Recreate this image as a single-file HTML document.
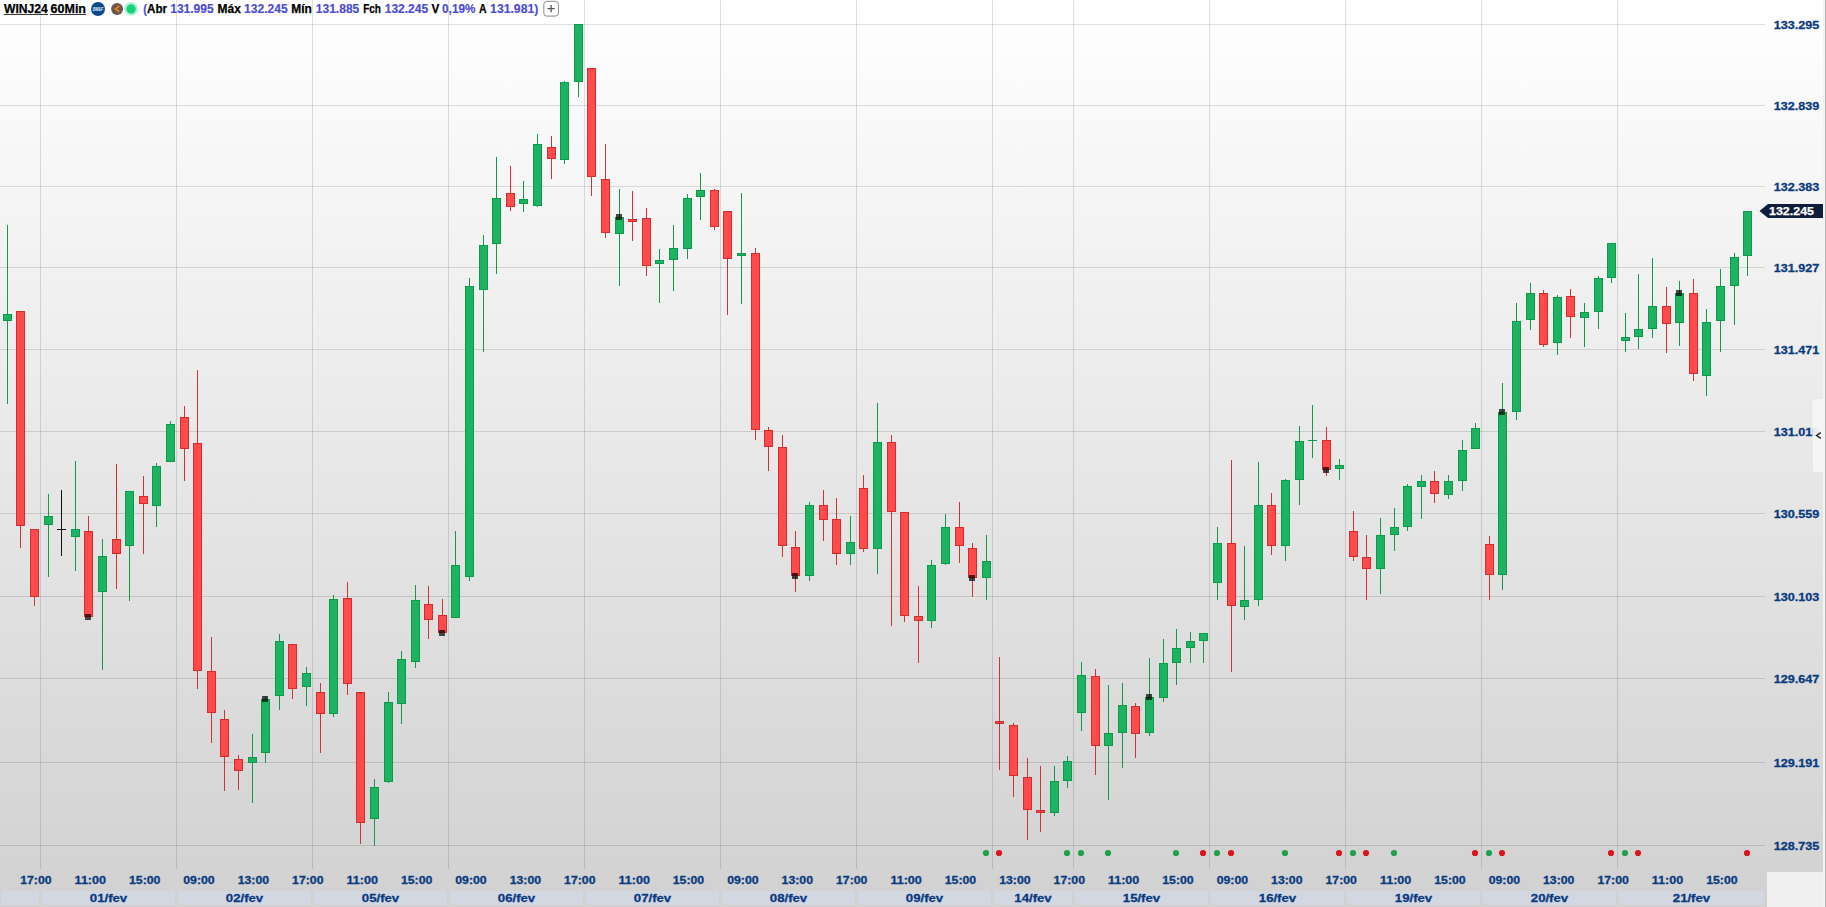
<!DOCTYPE html><html><head><meta charset="utf-8"><title>WINJ24 60Min</title>
<style>html,body{margin:0;padding:0;background:#fff;overflow:hidden}svg{display:block}text{font-family:"Liberation Sans",sans-serif;font-weight:bold}</style></head><body>
<svg width="1826" height="907" viewBox="0 0 1826 907" shape-rendering="crispEdges">
<defs><linearGradient id="bg" x1="0" y1="0" x2="0" y2="1"><stop offset="0" stop-color="#ffffff"/><stop offset="1" stop-color="#d1d1d1"/></linearGradient></defs>
<rect x="0" y="0" width="1826" height="907" fill="url(#bg)"/>
<rect x="1767" y="872" width="59" height="35" fill="#f0f0f0"/>
<rect x="0" y="24" width="1765" height="1" fill="rgba(0,0,0,0.12)"/>
<rect x="0" y="105" width="1765" height="1" fill="rgba(0,0,0,0.12)"/>
<rect x="0" y="186" width="1765" height="1" fill="rgba(0,0,0,0.12)"/>
<rect x="0" y="267" width="1765" height="1" fill="rgba(0,0,0,0.12)"/>
<rect x="0" y="349" width="1765" height="1" fill="rgba(0,0,0,0.12)"/>
<rect x="0" y="431" width="1765" height="1" fill="rgba(0,0,0,0.12)"/>
<rect x="0" y="513" width="1765" height="1" fill="rgba(0,0,0,0.12)"/>
<rect x="0" y="596" width="1765" height="1" fill="rgba(0,0,0,0.12)"/>
<rect x="0" y="678" width="1765" height="1" fill="rgba(0,0,0,0.12)"/>
<rect x="0" y="762" width="1765" height="1" fill="rgba(0,0,0,0.12)"/>
<rect x="0" y="845" width="1765" height="1" fill="rgba(0,0,0,0.12)"/>
<rect x="40" y="0" width="1" height="869" fill="rgba(0,0,0,0.12)"/>
<rect x="176" y="0" width="1" height="869" fill="rgba(0,0,0,0.12)"/>
<rect x="312" y="0" width="1" height="869" fill="rgba(0,0,0,0.12)"/>
<rect x="448" y="0" width="1" height="869" fill="rgba(0,0,0,0.12)"/>
<rect x="584" y="0" width="1" height="869" fill="rgba(0,0,0,0.12)"/>
<rect x="720" y="0" width="1" height="869" fill="rgba(0,0,0,0.12)"/>
<rect x="856" y="0" width="1" height="869" fill="rgba(0,0,0,0.12)"/>
<rect x="992" y="0" width="1" height="869" fill="rgba(0,0,0,0.12)"/>
<rect x="1073" y="0" width="1" height="869" fill="rgba(0,0,0,0.12)"/>
<rect x="1209" y="0" width="1" height="869" fill="rgba(0,0,0,0.12)"/>
<rect x="1345" y="0" width="1" height="869" fill="rgba(0,0,0,0.12)"/>
<rect x="1481" y="0" width="1" height="869" fill="rgba(0,0,0,0.12)"/>
<rect x="1617" y="0" width="1" height="869" fill="rgba(0,0,0,0.12)"/>
<rect x="1" y="891" width="38" height="14" fill="#d3d7e2"/>
<rect x="42" y="891" width="133" height="14" fill="#d3d7e2"/>
<rect x="178" y="891" width="133" height="14" fill="#d3d7e2"/>
<rect x="314" y="891" width="133" height="14" fill="#d3d7e2"/>
<rect x="450" y="891" width="133" height="14" fill="#d3d7e2"/>
<rect x="586" y="891" width="133" height="14" fill="#d3d7e2"/>
<rect x="722" y="891" width="133" height="14" fill="#d3d7e2"/>
<rect x="858" y="891" width="133" height="14" fill="#d3d7e2"/>
<rect x="994" y="891" width="78" height="14" fill="#d3d7e2"/>
<rect x="1075" y="891" width="133" height="14" fill="#d3d7e2"/>
<rect x="1211" y="891" width="133" height="14" fill="#d3d7e2"/>
<rect x="1347" y="891" width="133" height="14" fill="#d3d7e2"/>
<rect x="1483" y="891" width="133" height="14" fill="#d3d7e2"/>
<rect x="1619" y="891" width="145" height="14" fill="#d3d7e2"/>
<text x="108.5" y="902" font-size="11.2" fill="#0a3a80" text-anchor="middle" stroke="#0a3a80" stroke-width="0.3" textLength="37.4" lengthAdjust="spacingAndGlyphs">01/fev</text>
<text x="244.5" y="902" font-size="11.2" fill="#0a3a80" text-anchor="middle" stroke="#0a3a80" stroke-width="0.3" textLength="37.4" lengthAdjust="spacingAndGlyphs">02/fev</text>
<text x="380.5" y="902" font-size="11.2" fill="#0a3a80" text-anchor="middle" stroke="#0a3a80" stroke-width="0.3" textLength="37.4" lengthAdjust="spacingAndGlyphs">05/fev</text>
<text x="516.5" y="902" font-size="11.2" fill="#0a3a80" text-anchor="middle" stroke="#0a3a80" stroke-width="0.3" textLength="37.4" lengthAdjust="spacingAndGlyphs">06/fev</text>
<text x="652.5" y="902" font-size="11.2" fill="#0a3a80" text-anchor="middle" stroke="#0a3a80" stroke-width="0.3" textLength="37.4" lengthAdjust="spacingAndGlyphs">07/fev</text>
<text x="788.5" y="902" font-size="11.2" fill="#0a3a80" text-anchor="middle" stroke="#0a3a80" stroke-width="0.3" textLength="37.4" lengthAdjust="spacingAndGlyphs">08/fev</text>
<text x="924.5" y="902" font-size="11.2" fill="#0a3a80" text-anchor="middle" stroke="#0a3a80" stroke-width="0.3" textLength="37.4" lengthAdjust="spacingAndGlyphs">09/fev</text>
<text x="1033.0" y="902" font-size="11.2" fill="#0a3a80" text-anchor="middle" stroke="#0a3a80" stroke-width="0.3" textLength="37.4" lengthAdjust="spacingAndGlyphs">14/fev</text>
<text x="1141.5" y="902" font-size="11.2" fill="#0a3a80" text-anchor="middle" stroke="#0a3a80" stroke-width="0.3" textLength="37.4" lengthAdjust="spacingAndGlyphs">15/fev</text>
<text x="1277.5" y="902" font-size="11.2" fill="#0a3a80" text-anchor="middle" stroke="#0a3a80" stroke-width="0.3" textLength="37.4" lengthAdjust="spacingAndGlyphs">16/fev</text>
<text x="1413.5" y="902" font-size="11.2" fill="#0a3a80" text-anchor="middle" stroke="#0a3a80" stroke-width="0.3" textLength="37.4" lengthAdjust="spacingAndGlyphs">19/fev</text>
<text x="1549.5" y="902" font-size="11.2" fill="#0a3a80" text-anchor="middle" stroke="#0a3a80" stroke-width="0.3" textLength="37.4" lengthAdjust="spacingAndGlyphs">20/fev</text>
<text x="1691.5" y="902" font-size="11.2" fill="#0a3a80" text-anchor="middle" stroke="#0a3a80" stroke-width="0.3" textLength="37.4" lengthAdjust="spacingAndGlyphs">21/fev</text>
<text x="35.9" y="884" font-size="11.2" fill="#0a3a80" text-anchor="middle" stroke="#0a3a80" stroke-width="0.3" textLength="31.4" lengthAdjust="spacingAndGlyphs">17:00</text>
<text x="90.3" y="884" font-size="11.2" fill="#0a3a80" text-anchor="middle" stroke="#0a3a80" stroke-width="0.3" textLength="31.4" lengthAdjust="spacingAndGlyphs">11:00</text>
<text x="144.7" y="884" font-size="11.2" fill="#0a3a80" text-anchor="middle" stroke="#0a3a80" stroke-width="0.3" textLength="31.4" lengthAdjust="spacingAndGlyphs">15:00</text>
<text x="199.0" y="884" font-size="11.2" fill="#0a3a80" text-anchor="middle" stroke="#0a3a80" stroke-width="0.3" textLength="31.4" lengthAdjust="spacingAndGlyphs">09:00</text>
<text x="253.4" y="884" font-size="11.2" fill="#0a3a80" text-anchor="middle" stroke="#0a3a80" stroke-width="0.3" textLength="31.4" lengthAdjust="spacingAndGlyphs">13:00</text>
<text x="307.8" y="884" font-size="11.2" fill="#0a3a80" text-anchor="middle" stroke="#0a3a80" stroke-width="0.3" textLength="31.4" lengthAdjust="spacingAndGlyphs">17:00</text>
<text x="362.2" y="884" font-size="11.2" fill="#0a3a80" text-anchor="middle" stroke="#0a3a80" stroke-width="0.3" textLength="31.4" lengthAdjust="spacingAndGlyphs">11:00</text>
<text x="416.6" y="884" font-size="11.2" fill="#0a3a80" text-anchor="middle" stroke="#0a3a80" stroke-width="0.3" textLength="31.4" lengthAdjust="spacingAndGlyphs">15:00</text>
<text x="471.0" y="884" font-size="11.2" fill="#0a3a80" text-anchor="middle" stroke="#0a3a80" stroke-width="0.3" textLength="31.4" lengthAdjust="spacingAndGlyphs">09:00</text>
<text x="525.4" y="884" font-size="11.2" fill="#0a3a80" text-anchor="middle" stroke="#0a3a80" stroke-width="0.3" textLength="31.4" lengthAdjust="spacingAndGlyphs">13:00</text>
<text x="579.8" y="884" font-size="11.2" fill="#0a3a80" text-anchor="middle" stroke="#0a3a80" stroke-width="0.3" textLength="31.4" lengthAdjust="spacingAndGlyphs">17:00</text>
<text x="634.2" y="884" font-size="11.2" fill="#0a3a80" text-anchor="middle" stroke="#0a3a80" stroke-width="0.3" textLength="31.4" lengthAdjust="spacingAndGlyphs">11:00</text>
<text x="688.5" y="884" font-size="11.2" fill="#0a3a80" text-anchor="middle" stroke="#0a3a80" stroke-width="0.3" textLength="31.4" lengthAdjust="spacingAndGlyphs">15:00</text>
<text x="742.9" y="884" font-size="11.2" fill="#0a3a80" text-anchor="middle" stroke="#0a3a80" stroke-width="0.3" textLength="31.4" lengthAdjust="spacingAndGlyphs">09:00</text>
<text x="797.3" y="884" font-size="11.2" fill="#0a3a80" text-anchor="middle" stroke="#0a3a80" stroke-width="0.3" textLength="31.4" lengthAdjust="spacingAndGlyphs">13:00</text>
<text x="851.7" y="884" font-size="11.2" fill="#0a3a80" text-anchor="middle" stroke="#0a3a80" stroke-width="0.3" textLength="31.4" lengthAdjust="spacingAndGlyphs">17:00</text>
<text x="906.1" y="884" font-size="11.2" fill="#0a3a80" text-anchor="middle" stroke="#0a3a80" stroke-width="0.3" textLength="31.4" lengthAdjust="spacingAndGlyphs">11:00</text>
<text x="960.5" y="884" font-size="11.2" fill="#0a3a80" text-anchor="middle" stroke="#0a3a80" stroke-width="0.3" textLength="31.4" lengthAdjust="spacingAndGlyphs">15:00</text>
<text x="1014.9" y="884" font-size="11.2" fill="#0a3a80" text-anchor="middle" stroke="#0a3a80" stroke-width="0.3" textLength="31.4" lengthAdjust="spacingAndGlyphs">13:00</text>
<text x="1069.3" y="884" font-size="11.2" fill="#0a3a80" text-anchor="middle" stroke="#0a3a80" stroke-width="0.3" textLength="31.4" lengthAdjust="spacingAndGlyphs">17:00</text>
<text x="1123.6" y="884" font-size="11.2" fill="#0a3a80" text-anchor="middle" stroke="#0a3a80" stroke-width="0.3" textLength="31.4" lengthAdjust="spacingAndGlyphs">11:00</text>
<text x="1178.0" y="884" font-size="11.2" fill="#0a3a80" text-anchor="middle" stroke="#0a3a80" stroke-width="0.3" textLength="31.4" lengthAdjust="spacingAndGlyphs">15:00</text>
<text x="1232.4" y="884" font-size="11.2" fill="#0a3a80" text-anchor="middle" stroke="#0a3a80" stroke-width="0.3" textLength="31.4" lengthAdjust="spacingAndGlyphs">09:00</text>
<text x="1286.8" y="884" font-size="11.2" fill="#0a3a80" text-anchor="middle" stroke="#0a3a80" stroke-width="0.3" textLength="31.4" lengthAdjust="spacingAndGlyphs">13:00</text>
<text x="1341.2" y="884" font-size="11.2" fill="#0a3a80" text-anchor="middle" stroke="#0a3a80" stroke-width="0.3" textLength="31.4" lengthAdjust="spacingAndGlyphs">17:00</text>
<text x="1395.6" y="884" font-size="11.2" fill="#0a3a80" text-anchor="middle" stroke="#0a3a80" stroke-width="0.3" textLength="31.4" lengthAdjust="spacingAndGlyphs">11:00</text>
<text x="1450.0" y="884" font-size="11.2" fill="#0a3a80" text-anchor="middle" stroke="#0a3a80" stroke-width="0.3" textLength="31.4" lengthAdjust="spacingAndGlyphs">15:00</text>
<text x="1504.4" y="884" font-size="11.2" fill="#0a3a80" text-anchor="middle" stroke="#0a3a80" stroke-width="0.3" textLength="31.4" lengthAdjust="spacingAndGlyphs">09:00</text>
<text x="1558.7" y="884" font-size="11.2" fill="#0a3a80" text-anchor="middle" stroke="#0a3a80" stroke-width="0.3" textLength="31.4" lengthAdjust="spacingAndGlyphs">13:00</text>
<text x="1613.1" y="884" font-size="11.2" fill="#0a3a80" text-anchor="middle" stroke="#0a3a80" stroke-width="0.3" textLength="31.4" lengthAdjust="spacingAndGlyphs">17:00</text>
<text x="1667.5" y="884" font-size="11.2" fill="#0a3a80" text-anchor="middle" stroke="#0a3a80" stroke-width="0.3" textLength="31.4" lengthAdjust="spacingAndGlyphs">11:00</text>
<text x="1721.9" y="884" font-size="11.2" fill="#0a3a80" text-anchor="middle" stroke="#0a3a80" stroke-width="0.3" textLength="31.4" lengthAdjust="spacingAndGlyphs">15:00</text>
<rect x="7" y="225" width="1" height="179" fill="#12994c"/>
<rect x="3" y="314" width="9" height="7" fill="#0a9c49"/><rect x="4" y="315" width="7" height="5" fill="#1db362"/>
<rect x="20" y="311" width="1" height="237" fill="#d23232"/>
<rect x="16" y="311" width="9" height="215" fill="#d62c2c"/><rect x="17" y="312" width="7" height="213" fill="#ff4b4b"/>
<rect x="34" y="529" width="1" height="77" fill="#d23232"/>
<rect x="30" y="529" width="9" height="68" fill="#d62c2c"/><rect x="31" y="530" width="7" height="66" fill="#ff4b4b"/>
<rect x="48" y="494" width="1" height="83" fill="#12994c"/>
<rect x="44" y="516" width="9" height="9" fill="#0a9c49"/><rect x="45" y="517" width="7" height="7" fill="#1db362"/>
<rect x="75" y="461" width="1" height="110" fill="#12994c"/>
<rect x="71" y="529" width="9" height="8" fill="#0a9c49"/><rect x="72" y="530" width="7" height="6" fill="#1db362"/>
<rect x="88" y="516" width="1" height="101" fill="#d23232"/>
<rect x="84" y="531" width="9" height="86" fill="#d62c2c"/><rect x="85" y="532" width="7" height="84" fill="#ff4b4b"/>
<rect x="85" y="614" width="6" height="6" fill="rgba(0,0,0,0.7)"/>
<rect x="102" y="539" width="1" height="131" fill="#12994c"/>
<rect x="98" y="556" width="9" height="36" fill="#0a9c49"/><rect x="99" y="557" width="7" height="34" fill="#1db362"/>
<rect x="116" y="464" width="1" height="125" fill="#d23232"/>
<rect x="112" y="539" width="9" height="15" fill="#d62c2c"/><rect x="113" y="540" width="7" height="13" fill="#ff4b4b"/>
<rect x="129" y="491" width="1" height="110" fill="#12994c"/>
<rect x="125" y="491" width="9" height="55" fill="#0a9c49"/><rect x="126" y="492" width="7" height="53" fill="#1db362"/>
<rect x="143" y="476" width="1" height="78" fill="#d23232"/>
<rect x="139" y="496" width="9" height="8" fill="#d62c2c"/><rect x="140" y="497" width="7" height="6" fill="#ff4b4b"/>
<rect x="156" y="463" width="1" height="64" fill="#12994c"/>
<rect x="152" y="466" width="9" height="40" fill="#0a9c49"/><rect x="153" y="467" width="7" height="38" fill="#1db362"/>
<rect x="170" y="421" width="1" height="41" fill="#12994c"/>
<rect x="166" y="424" width="9" height="38" fill="#0a9c49"/><rect x="167" y="425" width="7" height="36" fill="#1db362"/>
<rect x="184" y="406" width="1" height="75" fill="#d23232"/>
<rect x="180" y="417" width="9" height="32" fill="#d62c2c"/><rect x="181" y="418" width="7" height="30" fill="#ff4b4b"/>
<rect x="197" y="370" width="1" height="319" fill="#d23232"/>
<rect x="193" y="443" width="9" height="228" fill="#d62c2c"/><rect x="194" y="444" width="7" height="226" fill="#ff4b4b"/>
<rect x="211" y="637" width="1" height="106" fill="#d23232"/>
<rect x="207" y="671" width="9" height="42" fill="#d62c2c"/><rect x="208" y="672" width="7" height="40" fill="#ff4b4b"/>
<rect x="224" y="710" width="1" height="81" fill="#d23232"/>
<rect x="220" y="719" width="9" height="38" fill="#d62c2c"/><rect x="221" y="720" width="7" height="36" fill="#ff4b4b"/>
<rect x="238" y="755" width="1" height="35" fill="#d23232"/>
<rect x="234" y="759" width="9" height="12" fill="#d62c2c"/><rect x="235" y="760" width="7" height="10" fill="#ff4b4b"/>
<rect x="252" y="734" width="1" height="69" fill="#12994c"/>
<rect x="248" y="757" width="9" height="6" fill="#0a9c49"/><rect x="249" y="758" width="7" height="4" fill="#1db362"/>
<rect x="265" y="696" width="1" height="67" fill="#12994c"/>
<rect x="261" y="699" width="9" height="54" fill="#0a9c49"/><rect x="262" y="700" width="7" height="52" fill="#1db362"/>
<rect x="262" y="696" width="6" height="6" fill="rgba(0,0,0,0.7)"/>
<rect x="279" y="634" width="1" height="76" fill="#12994c"/>
<rect x="275" y="641" width="9" height="55" fill="#0a9c49"/><rect x="276" y="642" width="7" height="53" fill="#1db362"/>
<rect x="292" y="644" width="1" height="55" fill="#d23232"/>
<rect x="288" y="644" width="9" height="45" fill="#d62c2c"/><rect x="289" y="645" width="7" height="43" fill="#ff4b4b"/>
<rect x="306" y="667" width="1" height="39" fill="#12994c"/>
<rect x="302" y="673" width="9" height="14" fill="#0a9c49"/><rect x="303" y="674" width="7" height="12" fill="#1db362"/>
<rect x="320" y="683" width="1" height="70" fill="#d23232"/>
<rect x="316" y="692" width="9" height="22" fill="#d62c2c"/><rect x="317" y="693" width="7" height="20" fill="#ff4b4b"/>
<rect x="333" y="595" width="1" height="122" fill="#12994c"/>
<rect x="329" y="599" width="9" height="115" fill="#0a9c49"/><rect x="330" y="600" width="7" height="113" fill="#1db362"/>
<rect x="347" y="582" width="1" height="113" fill="#d23232"/>
<rect x="343" y="598" width="9" height="86" fill="#d62c2c"/><rect x="344" y="599" width="7" height="84" fill="#ff4b4b"/>
<rect x="360" y="692" width="1" height="152" fill="#d23232"/>
<rect x="356" y="692" width="9" height="131" fill="#d62c2c"/><rect x="357" y="693" width="7" height="129" fill="#ff4b4b"/>
<rect x="374" y="779" width="1" height="67" fill="#12994c"/>
<rect x="370" y="787" width="9" height="32" fill="#0a9c49"/><rect x="371" y="788" width="7" height="30" fill="#1db362"/>
<rect x="388" y="692" width="1" height="91" fill="#12994c"/>
<rect x="384" y="702" width="9" height="80" fill="#0a9c49"/><rect x="385" y="703" width="7" height="78" fill="#1db362"/>
<rect x="401" y="651" width="1" height="73" fill="#12994c"/>
<rect x="397" y="659" width="9" height="45" fill="#0a9c49"/><rect x="398" y="660" width="7" height="43" fill="#1db362"/>
<rect x="415" y="585" width="1" height="83" fill="#12994c"/>
<rect x="411" y="600" width="9" height="62" fill="#0a9c49"/><rect x="412" y="601" width="7" height="60" fill="#1db362"/>
<rect x="428" y="586" width="1" height="53" fill="#d23232"/>
<rect x="424" y="604" width="9" height="16" fill="#d62c2c"/><rect x="425" y="605" width="7" height="14" fill="#ff4b4b"/>
<rect x="442" y="599" width="1" height="34" fill="#d23232"/>
<rect x="438" y="615" width="9" height="18" fill="#d62c2c"/><rect x="439" y="616" width="7" height="16" fill="#ff4b4b"/>
<rect x="439" y="630" width="6" height="6" fill="rgba(0,0,0,0.7)"/>
<rect x="455" y="531" width="1" height="87" fill="#12994c"/>
<rect x="451" y="565" width="9" height="53" fill="#0a9c49"/><rect x="452" y="566" width="7" height="51" fill="#1db362"/>
<rect x="469" y="278" width="1" height="303" fill="#12994c"/>
<rect x="465" y="286" width="9" height="291" fill="#0a9c49"/><rect x="466" y="287" width="7" height="289" fill="#1db362"/>
<rect x="483" y="235" width="1" height="117" fill="#12994c"/>
<rect x="479" y="245" width="9" height="45" fill="#0a9c49"/><rect x="480" y="246" width="7" height="43" fill="#1db362"/>
<rect x="496" y="157" width="1" height="117" fill="#12994c"/>
<rect x="492" y="198" width="9" height="46" fill="#0a9c49"/><rect x="493" y="199" width="7" height="44" fill="#1db362"/>
<rect x="510" y="166" width="1" height="45" fill="#d23232"/>
<rect x="506" y="193" width="9" height="14" fill="#d62c2c"/><rect x="507" y="194" width="7" height="12" fill="#ff4b4b"/>
<rect x="523" y="181" width="1" height="31" fill="#12994c"/>
<rect x="519" y="199" width="9" height="5" fill="#0a9c49"/><rect x="520" y="200" width="7" height="3" fill="#1db362"/>
<rect x="537" y="134" width="1" height="73" fill="#12994c"/>
<rect x="533" y="144" width="9" height="62" fill="#0a9c49"/><rect x="534" y="145" width="7" height="60" fill="#1db362"/>
<rect x="551" y="136" width="1" height="43" fill="#d23232"/>
<rect x="547" y="147" width="9" height="12" fill="#d62c2c"/><rect x="548" y="148" width="7" height="10" fill="#ff4b4b"/>
<rect x="564" y="81" width="1" height="83" fill="#12994c"/>
<rect x="560" y="82" width="9" height="78" fill="#0a9c49"/><rect x="561" y="83" width="7" height="76" fill="#1db362"/>
<rect x="578" y="24" width="1" height="73" fill="#12994c"/>
<rect x="574" y="24" width="9" height="58" fill="#0a9c49"/><rect x="575" y="25" width="7" height="56" fill="#1db362"/>
<rect x="591" y="68" width="1" height="128" fill="#d23232"/>
<rect x="587" y="68" width="9" height="109" fill="#d62c2c"/><rect x="588" y="69" width="7" height="107" fill="#ff4b4b"/>
<rect x="605" y="144" width="1" height="94" fill="#d23232"/>
<rect x="601" y="179" width="9" height="54" fill="#d62c2c"/><rect x="602" y="180" width="7" height="52" fill="#ff4b4b"/>
<rect x="619" y="189" width="1" height="97" fill="#12994c"/>
<rect x="615" y="217" width="9" height="17" fill="#0a9c49"/><rect x="616" y="218" width="7" height="15" fill="#1db362"/>
<rect x="616" y="214" width="6" height="6" fill="rgba(0,0,0,0.7)"/>
<rect x="632" y="191" width="1" height="50" fill="#d23232"/>
<rect x="628" y="219" width="9" height="3" fill="#d62c2c"/><rect x="629" y="220" width="7" height="1" fill="#ff4b4b"/>
<rect x="646" y="208" width="1" height="68" fill="#d23232"/>
<rect x="642" y="218" width="9" height="48" fill="#d62c2c"/><rect x="643" y="219" width="7" height="46" fill="#ff4b4b"/>
<rect x="659" y="249" width="1" height="54" fill="#12994c"/>
<rect x="655" y="260" width="9" height="4" fill="#0a9c49"/><rect x="656" y="261" width="7" height="2" fill="#1db362"/>
<rect x="673" y="225" width="1" height="66" fill="#12994c"/>
<rect x="669" y="248" width="9" height="12" fill="#0a9c49"/><rect x="670" y="249" width="7" height="10" fill="#1db362"/>
<rect x="687" y="194" width="1" height="65" fill="#12994c"/>
<rect x="683" y="198" width="9" height="51" fill="#0a9c49"/><rect x="684" y="199" width="7" height="49" fill="#1db362"/>
<rect x="700" y="173" width="1" height="47" fill="#12994c"/>
<rect x="696" y="190" width="9" height="7" fill="#0a9c49"/><rect x="697" y="191" width="7" height="5" fill="#1db362"/>
<rect x="714" y="189" width="1" height="41" fill="#d23232"/>
<rect x="710" y="190" width="9" height="37" fill="#d62c2c"/><rect x="711" y="191" width="7" height="35" fill="#ff4b4b"/>
<rect x="727" y="211" width="1" height="104" fill="#d23232"/>
<rect x="723" y="211" width="9" height="48" fill="#d62c2c"/><rect x="724" y="212" width="7" height="46" fill="#ff4b4b"/>
<rect x="741" y="193" width="1" height="111" fill="#12994c"/>
<rect x="737" y="253" width="9" height="3" fill="#0a9c49"/><rect x="738" y="254" width="7" height="1" fill="#1db362"/>
<rect x="755" y="248" width="1" height="192" fill="#d23232"/>
<rect x="751" y="253" width="9" height="177" fill="#d62c2c"/><rect x="752" y="254" width="7" height="175" fill="#ff4b4b"/>
<rect x="768" y="427" width="1" height="44" fill="#d23232"/>
<rect x="764" y="430" width="9" height="17" fill="#d62c2c"/><rect x="765" y="431" width="7" height="15" fill="#ff4b4b"/>
<rect x="782" y="435" width="1" height="122" fill="#d23232"/>
<rect x="778" y="447" width="9" height="99" fill="#d62c2c"/><rect x="779" y="448" width="7" height="97" fill="#ff4b4b"/>
<rect x="795" y="531" width="1" height="61" fill="#d23232"/>
<rect x="791" y="547" width="9" height="29" fill="#d62c2c"/><rect x="792" y="548" width="7" height="27" fill="#ff4b4b"/>
<rect x="792" y="573" width="6" height="6" fill="rgba(0,0,0,0.7)"/>
<rect x="809" y="502" width="1" height="79" fill="#12994c"/>
<rect x="805" y="505" width="9" height="71" fill="#0a9c49"/><rect x="806" y="506" width="7" height="69" fill="#1db362"/>
<rect x="823" y="490" width="1" height="51" fill="#d23232"/>
<rect x="819" y="505" width="9" height="15" fill="#d62c2c"/><rect x="820" y="506" width="7" height="13" fill="#ff4b4b"/>
<rect x="836" y="498" width="1" height="67" fill="#d23232"/>
<rect x="832" y="519" width="9" height="35" fill="#d62c2c"/><rect x="833" y="520" width="7" height="33" fill="#ff4b4b"/>
<rect x="850" y="516" width="1" height="49" fill="#12994c"/>
<rect x="846" y="542" width="9" height="12" fill="#0a9c49"/><rect x="847" y="543" width="7" height="10" fill="#1db362"/>
<rect x="863" y="475" width="1" height="77" fill="#d23232"/>
<rect x="859" y="488" width="9" height="61" fill="#d62c2c"/><rect x="860" y="489" width="7" height="59" fill="#ff4b4b"/>
<rect x="877" y="403" width="1" height="171" fill="#12994c"/>
<rect x="873" y="442" width="9" height="107" fill="#0a9c49"/><rect x="874" y="443" width="7" height="105" fill="#1db362"/>
<rect x="891" y="435" width="1" height="191" fill="#d23232"/>
<rect x="887" y="442" width="9" height="70" fill="#d62c2c"/><rect x="888" y="443" width="7" height="68" fill="#ff4b4b"/>
<rect x="904" y="512" width="1" height="110" fill="#d23232"/>
<rect x="900" y="512" width="9" height="104" fill="#d62c2c"/><rect x="901" y="513" width="7" height="102" fill="#ff4b4b"/>
<rect x="918" y="586" width="1" height="77" fill="#d23232"/>
<rect x="914" y="616" width="9" height="5" fill="#d62c2c"/><rect x="915" y="617" width="7" height="3" fill="#ff4b4b"/>
<rect x="931" y="560" width="1" height="68" fill="#12994c"/>
<rect x="927" y="565" width="9" height="56" fill="#0a9c49"/><rect x="928" y="566" width="7" height="54" fill="#1db362"/>
<rect x="945" y="514" width="1" height="51" fill="#12994c"/>
<rect x="941" y="527" width="9" height="37" fill="#0a9c49"/><rect x="942" y="528" width="7" height="35" fill="#1db362"/>
<rect x="959" y="502" width="1" height="61" fill="#d23232"/>
<rect x="955" y="527" width="9" height="19" fill="#d62c2c"/><rect x="956" y="528" width="7" height="17" fill="#ff4b4b"/>
<rect x="972" y="543" width="1" height="54" fill="#d23232"/>
<rect x="968" y="548" width="9" height="30" fill="#d62c2c"/><rect x="969" y="549" width="7" height="28" fill="#ff4b4b"/>
<rect x="969" y="575" width="6" height="6" fill="rgba(0,0,0,0.7)"/>
<rect x="986" y="535" width="1" height="65" fill="#12994c"/>
<rect x="982" y="561" width="9" height="17" fill="#0a9c49"/><rect x="983" y="562" width="7" height="15" fill="#1db362"/>
<rect x="999" y="657" width="1" height="113" fill="#d23232"/>
<rect x="995" y="721" width="9" height="3" fill="#d62c2c"/><rect x="996" y="722" width="7" height="1" fill="#ff4b4b"/>
<rect x="1013" y="723" width="1" height="74" fill="#d23232"/>
<rect x="1009" y="725" width="9" height="51" fill="#d62c2c"/><rect x="1010" y="726" width="7" height="49" fill="#ff4b4b"/>
<rect x="1027" y="758" width="1" height="82" fill="#d23232"/>
<rect x="1023" y="777" width="9" height="33" fill="#d62c2c"/><rect x="1024" y="778" width="7" height="31" fill="#ff4b4b"/>
<rect x="1040" y="766" width="1" height="66" fill="#d23232"/>
<rect x="1036" y="810" width="9" height="3" fill="#d62c2c"/><rect x="1037" y="811" width="7" height="1" fill="#ff4b4b"/>
<rect x="1054" y="766" width="1" height="50" fill="#12994c"/>
<rect x="1050" y="781" width="9" height="32" fill="#0a9c49"/><rect x="1051" y="782" width="7" height="30" fill="#1db362"/>
<rect x="1067" y="756" width="1" height="32" fill="#12994c"/>
<rect x="1063" y="761" width="9" height="20" fill="#0a9c49"/><rect x="1064" y="762" width="7" height="18" fill="#1db362"/>
<rect x="1081" y="662" width="1" height="69" fill="#12994c"/>
<rect x="1077" y="675" width="9" height="38" fill="#0a9c49"/><rect x="1078" y="676" width="7" height="36" fill="#1db362"/>
<rect x="1095" y="669" width="1" height="106" fill="#d23232"/>
<rect x="1091" y="676" width="9" height="70" fill="#d62c2c"/><rect x="1092" y="677" width="7" height="68" fill="#ff4b4b"/>
<rect x="1108" y="685" width="1" height="115" fill="#12994c"/>
<rect x="1104" y="733" width="9" height="13" fill="#0a9c49"/><rect x="1105" y="734" width="7" height="11" fill="#1db362"/>
<rect x="1122" y="683" width="1" height="85" fill="#12994c"/>
<rect x="1118" y="705" width="9" height="28" fill="#0a9c49"/><rect x="1119" y="706" width="7" height="26" fill="#1db362"/>
<rect x="1135" y="703" width="1" height="55" fill="#d23232"/>
<rect x="1131" y="706" width="9" height="28" fill="#d62c2c"/><rect x="1132" y="707" width="7" height="26" fill="#ff4b4b"/>
<rect x="1149" y="658" width="1" height="78" fill="#12994c"/>
<rect x="1145" y="697" width="9" height="36" fill="#0a9c49"/><rect x="1146" y="698" width="7" height="34" fill="#1db362"/>
<rect x="1146" y="694" width="6" height="6" fill="rgba(0,0,0,0.7)"/>
<rect x="1163" y="639" width="1" height="63" fill="#12994c"/>
<rect x="1159" y="663" width="9" height="35" fill="#0a9c49"/><rect x="1160" y="664" width="7" height="33" fill="#1db362"/>
<rect x="1176" y="629" width="1" height="56" fill="#12994c"/>
<rect x="1172" y="648" width="9" height="15" fill="#0a9c49"/><rect x="1173" y="649" width="7" height="13" fill="#1db362"/>
<rect x="1190" y="632" width="1" height="31" fill="#12994c"/>
<rect x="1186" y="641" width="9" height="7" fill="#0a9c49"/><rect x="1187" y="642" width="7" height="5" fill="#1db362"/>
<rect x="1203" y="633" width="1" height="30" fill="#12994c"/>
<rect x="1199" y="633" width="9" height="8" fill="#0a9c49"/><rect x="1200" y="634" width="7" height="6" fill="#1db362"/>
<rect x="1217" y="527" width="1" height="73" fill="#12994c"/>
<rect x="1213" y="543" width="9" height="40" fill="#0a9c49"/><rect x="1214" y="544" width="7" height="38" fill="#1db362"/>
<rect x="1231" y="460" width="1" height="212" fill="#d23232"/>
<rect x="1227" y="543" width="9" height="63" fill="#d62c2c"/><rect x="1228" y="544" width="7" height="61" fill="#ff4b4b"/>
<rect x="1244" y="546" width="1" height="74" fill="#12994c"/>
<rect x="1240" y="600" width="9" height="7" fill="#0a9c49"/><rect x="1241" y="601" width="7" height="5" fill="#1db362"/>
<rect x="1258" y="462" width="1" height="144" fill="#12994c"/>
<rect x="1254" y="505" width="9" height="95" fill="#0a9c49"/><rect x="1255" y="506" width="7" height="93" fill="#1db362"/>
<rect x="1271" y="493" width="1" height="62" fill="#d23232"/>
<rect x="1267" y="505" width="9" height="41" fill="#d62c2c"/><rect x="1268" y="506" width="7" height="39" fill="#ff4b4b"/>
<rect x="1285" y="479" width="1" height="82" fill="#12994c"/>
<rect x="1281" y="480" width="9" height="66" fill="#0a9c49"/><rect x="1282" y="481" width="7" height="64" fill="#1db362"/>
<rect x="1299" y="426" width="1" height="79" fill="#12994c"/>
<rect x="1295" y="441" width="9" height="39" fill="#0a9c49"/><rect x="1296" y="442" width="7" height="37" fill="#1db362"/>
<rect x="1326" y="427" width="1" height="49" fill="#d23232"/>
<rect x="1322" y="440" width="9" height="30" fill="#d62c2c"/><rect x="1323" y="441" width="7" height="28" fill="#ff4b4b"/>
<rect x="1323" y="467" width="6" height="6" fill="rgba(0,0,0,0.7)"/>
<rect x="1339" y="459" width="1" height="21" fill="#12994c"/>
<rect x="1335" y="465" width="9" height="4" fill="#0a9c49"/><rect x="1336" y="466" width="7" height="2" fill="#1db362"/>
<rect x="1353" y="511" width="1" height="50" fill="#d23232"/>
<rect x="1349" y="531" width="9" height="26" fill="#d62c2c"/><rect x="1350" y="532" width="7" height="24" fill="#ff4b4b"/>
<rect x="1366" y="535" width="1" height="65" fill="#d23232"/>
<rect x="1362" y="557" width="9" height="12" fill="#d62c2c"/><rect x="1363" y="558" width="7" height="10" fill="#ff4b4b"/>
<rect x="1380" y="518" width="1" height="76" fill="#12994c"/>
<rect x="1376" y="535" width="9" height="34" fill="#0a9c49"/><rect x="1377" y="536" width="7" height="32" fill="#1db362"/>
<rect x="1394" y="508" width="1" height="43" fill="#12994c"/>
<rect x="1390" y="527" width="9" height="8" fill="#0a9c49"/><rect x="1391" y="528" width="7" height="6" fill="#1db362"/>
<rect x="1407" y="484" width="1" height="47" fill="#12994c"/>
<rect x="1403" y="486" width="9" height="41" fill="#0a9c49"/><rect x="1404" y="487" width="7" height="39" fill="#1db362"/>
<rect x="1421" y="475" width="1" height="44" fill="#12994c"/>
<rect x="1417" y="481" width="9" height="6" fill="#0a9c49"/><rect x="1418" y="482" width="7" height="4" fill="#1db362"/>
<rect x="1434" y="471" width="1" height="32" fill="#d23232"/>
<rect x="1430" y="481" width="9" height="13" fill="#d62c2c"/><rect x="1431" y="482" width="7" height="11" fill="#ff4b4b"/>
<rect x="1448" y="475" width="1" height="24" fill="#12994c"/>
<rect x="1444" y="481" width="9" height="14" fill="#0a9c49"/><rect x="1445" y="482" width="7" height="12" fill="#1db362"/>
<rect x="1462" y="440" width="1" height="51" fill="#12994c"/>
<rect x="1458" y="450" width="9" height="31" fill="#0a9c49"/><rect x="1459" y="451" width="7" height="29" fill="#1db362"/>
<rect x="1475" y="423" width="1" height="26" fill="#12994c"/>
<rect x="1471" y="428" width="9" height="21" fill="#0a9c49"/><rect x="1472" y="429" width="7" height="19" fill="#1db362"/>
<rect x="1489" y="536" width="1" height="64" fill="#d23232"/>
<rect x="1485" y="544" width="9" height="31" fill="#d62c2c"/><rect x="1486" y="545" width="7" height="29" fill="#ff4b4b"/>
<rect x="1502" y="383" width="1" height="207" fill="#12994c"/>
<rect x="1498" y="412" width="9" height="163" fill="#0a9c49"/><rect x="1499" y="413" width="7" height="161" fill="#1db362"/>
<rect x="1499" y="409" width="6" height="6" fill="rgba(0,0,0,0.7)"/>
<rect x="1516" y="303" width="1" height="117" fill="#12994c"/>
<rect x="1512" y="321" width="9" height="91" fill="#0a9c49"/><rect x="1513" y="322" width="7" height="89" fill="#1db362"/>
<rect x="1530" y="283" width="1" height="47" fill="#12994c"/>
<rect x="1526" y="293" width="9" height="27" fill="#0a9c49"/><rect x="1527" y="294" width="7" height="25" fill="#1db362"/>
<rect x="1543" y="290" width="1" height="57" fill="#d23232"/>
<rect x="1539" y="293" width="9" height="52" fill="#d62c2c"/><rect x="1540" y="294" width="7" height="50" fill="#ff4b4b"/>
<rect x="1557" y="295" width="1" height="60" fill="#12994c"/>
<rect x="1553" y="297" width="9" height="46" fill="#0a9c49"/><rect x="1554" y="298" width="7" height="44" fill="#1db362"/>
<rect x="1570" y="289" width="1" height="49" fill="#d23232"/>
<rect x="1566" y="296" width="9" height="21" fill="#d62c2c"/><rect x="1567" y="297" width="7" height="19" fill="#ff4b4b"/>
<rect x="1584" y="303" width="1" height="44" fill="#12994c"/>
<rect x="1580" y="312" width="9" height="6" fill="#0a9c49"/><rect x="1581" y="313" width="7" height="4" fill="#1db362"/>
<rect x="1598" y="276" width="1" height="53" fill="#12994c"/>
<rect x="1594" y="278" width="9" height="34" fill="#0a9c49"/><rect x="1595" y="279" width="7" height="32" fill="#1db362"/>
<rect x="1611" y="243" width="1" height="40" fill="#12994c"/>
<rect x="1607" y="243" width="9" height="35" fill="#0a9c49"/><rect x="1608" y="244" width="7" height="33" fill="#1db362"/>
<rect x="1625" y="313" width="1" height="39" fill="#12994c"/>
<rect x="1621" y="337" width="9" height="4" fill="#0a9c49"/><rect x="1622" y="338" width="7" height="2" fill="#1db362"/>
<rect x="1638" y="274" width="1" height="75" fill="#12994c"/>
<rect x="1634" y="329" width="9" height="8" fill="#0a9c49"/><rect x="1635" y="330" width="7" height="6" fill="#1db362"/>
<rect x="1652" y="258" width="1" height="80" fill="#12994c"/>
<rect x="1648" y="306" width="9" height="23" fill="#0a9c49"/><rect x="1649" y="307" width="7" height="21" fill="#1db362"/>
<rect x="1666" y="287" width="1" height="66" fill="#d23232"/>
<rect x="1662" y="306" width="9" height="18" fill="#d62c2c"/><rect x="1663" y="307" width="7" height="16" fill="#ff4b4b"/>
<rect x="1679" y="281" width="1" height="65" fill="#12994c"/>
<rect x="1675" y="293" width="9" height="30" fill="#0a9c49"/><rect x="1676" y="294" width="7" height="28" fill="#1db362"/>
<rect x="1676" y="290" width="6" height="6" fill="rgba(0,0,0,0.7)"/>
<rect x="1693" y="279" width="1" height="102" fill="#d23232"/>
<rect x="1689" y="293" width="9" height="81" fill="#d62c2c"/><rect x="1690" y="294" width="7" height="79" fill="#ff4b4b"/>
<rect x="1706" y="309" width="1" height="87" fill="#12994c"/>
<rect x="1702" y="322" width="9" height="54" fill="#0a9c49"/><rect x="1703" y="323" width="7" height="52" fill="#1db362"/>
<rect x="1720" y="269" width="1" height="83" fill="#12994c"/>
<rect x="1716" y="286" width="9" height="35" fill="#0a9c49"/><rect x="1717" y="287" width="7" height="33" fill="#1db362"/>
<rect x="1734" y="253" width="1" height="72" fill="#12994c"/>
<rect x="1730" y="257" width="9" height="29" fill="#0a9c49"/><rect x="1731" y="258" width="7" height="27" fill="#1db362"/>
<rect x="1747" y="211" width="1" height="65" fill="#12994c"/>
<rect x="1743" y="211" width="9" height="45" fill="#0a9c49"/><rect x="1744" y="212" width="7" height="43" fill="#1db362"/>
<rect x="61" y="490" width="1" height="66" fill="#111"/><rect x="57" y="529" width="9" height="1" fill="#111"/>
<rect x="1312" y="405" width="1" height="53" fill="#12994c"/><rect x="1308" y="440" width="9" height="1" fill="#12994c"/>
<g shape-rendering="auto">
<circle cx="986" cy="853" r="3.1" fill="#1fa04c"/>
<circle cx="999" cy="853" r="3.1" fill="#d9161c"/>
<circle cx="1067" cy="853" r="3.1" fill="#1fa04c"/>
<circle cx="1081" cy="853" r="3.1" fill="#1fa04c"/>
<circle cx="1108" cy="853" r="3.1" fill="#1fa04c"/>
<circle cx="1176" cy="853" r="3.1" fill="#1fa04c"/>
<circle cx="1203" cy="853" r="3.1" fill="#d9161c"/>
<circle cx="1217" cy="853" r="3.1" fill="#1fa04c"/>
<circle cx="1231" cy="853" r="3.1" fill="#d9161c"/>
<circle cx="1285" cy="853" r="3.1" fill="#1fa04c"/>
<circle cx="1339" cy="853" r="3.1" fill="#d9161c"/>
<circle cx="1353" cy="853" r="3.1" fill="#1fa04c"/>
<circle cx="1366" cy="853" r="3.1" fill="#d9161c"/>
<circle cx="1394" cy="853" r="3.1" fill="#1fa04c"/>
<circle cx="1475" cy="853" r="3.1" fill="#d9161c"/>
<circle cx="1489" cy="853" r="3.1" fill="#1fa04c"/>
<circle cx="1502" cy="853" r="3.1" fill="#d9161c"/>
<circle cx="1611" cy="853" r="3.1" fill="#d9161c"/>
<circle cx="1625" cy="853" r="3.1" fill="#1fa04c"/>
<circle cx="1638" cy="853" r="3.1" fill="#d9161c"/>
<circle cx="1747" cy="853" r="3.1" fill="#d9161c"/>
</g>
<text x="1773.7" y="29" font-size="11.2" fill="#0a3a80" stroke="#0a3a80" stroke-width="0.3" textLength="45.5" lengthAdjust="spacingAndGlyphs">133.295</text>
<text x="1773.7" y="110" font-size="11.2" fill="#0a3a80" stroke="#0a3a80" stroke-width="0.3" textLength="45.5" lengthAdjust="spacingAndGlyphs">132.839</text>
<text x="1773.7" y="191" font-size="11.2" fill="#0a3a80" stroke="#0a3a80" stroke-width="0.3" textLength="45.5" lengthAdjust="spacingAndGlyphs">132.383</text>
<text x="1773.7" y="272" font-size="11.2" fill="#0a3a80" stroke="#0a3a80" stroke-width="0.3" textLength="45.5" lengthAdjust="spacingAndGlyphs">131.927</text>
<text x="1773.7" y="354" font-size="11.2" fill="#0a3a80" stroke="#0a3a80" stroke-width="0.3" textLength="45.5" lengthAdjust="spacingAndGlyphs">131.471</text>
<text x="1773.7" y="436" font-size="11.2" fill="#0a3a80" stroke="#0a3a80" stroke-width="0.3" textLength="45.5" lengthAdjust="spacingAndGlyphs">131.015</text>
<text x="1773.7" y="518" font-size="11.2" fill="#0a3a80" stroke="#0a3a80" stroke-width="0.3" textLength="45.5" lengthAdjust="spacingAndGlyphs">130.559</text>
<text x="1773.7" y="601" font-size="11.2" fill="#0a3a80" stroke="#0a3a80" stroke-width="0.3" textLength="45.5" lengthAdjust="spacingAndGlyphs">130.103</text>
<text x="1773.7" y="683" font-size="11.2" fill="#0a3a80" stroke="#0a3a80" stroke-width="0.3" textLength="45.5" lengthAdjust="spacingAndGlyphs">129.647</text>
<text x="1773.7" y="767" font-size="11.2" fill="#0a3a80" stroke="#0a3a80" stroke-width="0.3" textLength="45.5" lengthAdjust="spacingAndGlyphs">129.191</text>
<text x="1773.7" y="850" font-size="11.2" fill="#0a3a80" stroke="#0a3a80" stroke-width="0.3" textLength="45.5" lengthAdjust="spacingAndGlyphs">128.735</text>
<g shape-rendering="auto"><path d="M1759.5 211 L1768 204 H1823 V218 H1768 Z" fill="#0f1d3a"/></g>
<text x="1769" y="215" font-size="11.2" fill="#ffffff" stroke="#ffffff" stroke-width="0.25" textLength="45" lengthAdjust="spacingAndGlyphs">132.245</text>
<g shape-rendering="auto"><path d="M1814.8 399 H1823 V472 H1814.8 Q1812.8 472 1812.8 470 V401 Q1812.8 399 1814.8 399 Z" fill="#f5f5f5" fill-opacity="0.93"/>
<path d="M1820.8 432.6 L1816.6 435.5 L1820.8 438.4" fill="none" stroke="#222" stroke-width="1.4"/></g>
<rect x="1823" y="0" width="2" height="907" fill="#f3f3f3"/><rect x="1825" y="0" width="1" height="907" fill="#b5b5b5"/>
<g font-size="12" shape-rendering="auto">
<text x="4" y="12.5" fill="#000" stroke="#000" stroke-width="0.25" textLength="43.8" lengthAdjust="spacingAndGlyphs">WINJ24</text>
<rect x="4" y="14" width="44" height="1" fill="#3a3a3a" shape-rendering="crispEdges"/>
<text x="50.6" y="12.5" fill="#000" stroke="#000" stroke-width="0.25" textLength="35.4" lengthAdjust="spacingAndGlyphs">60Min</text>
<rect x="50.4" y="14" width="35.8" height="1" fill="#3a3a3a" shape-rendering="crispEdges"/>
<circle cx="98" cy="8.95" r="7" fill="#084a8c"/><text x="92.7" y="10.7" font-size="4.6" fill="#e8eef6" font-style="italic" textLength="10.4" lengthAdjust="spacingAndGlyphs">BM&amp;F</text>
<circle cx="117.1" cy="8.95" r="6" fill="#6b574b"/><path d="M119.3 6.2 L115.5 8.9 L119.3 11.6" fill="none" stroke="#ff8222" stroke-width="1.5"/>
<circle cx="131.1" cy="8.95" r="6.9" fill="#b2f2d3"/><circle cx="131.1" cy="8.95" r="4.7" fill="#14d47b"/>
<text x="143.2" y="12.5" fill="#4b4bd3" stroke="#4b4bd3" stroke-width="0.15" textLength="3.6" lengthAdjust="spacingAndGlyphs">(</text>
<text x="147.0" y="12.5" fill="#000" stroke="#000" stroke-width="0.25" textLength="20.0" lengthAdjust="spacingAndGlyphs">Abr</text>
<text x="170.2" y="12.5" fill="#4b4bd3" stroke="#4b4bd3" stroke-width="0.15" textLength="43.5" lengthAdjust="spacingAndGlyphs">131.995</text>
<text x="217.6" y="12.5" fill="#000" stroke="#000" stroke-width="0.25" textLength="23.2" lengthAdjust="spacingAndGlyphs">Máx</text>
<text x="244.1" y="12.5" fill="#4b4bd3" stroke="#4b4bd3" stroke-width="0.15" textLength="43.5" lengthAdjust="spacingAndGlyphs">132.245</text>
<text x="291.3" y="12.5" fill="#000" stroke="#000" stroke-width="0.25" textLength="20.5" lengthAdjust="spacingAndGlyphs">Mín</text>
<text x="315.8" y="12.5" fill="#4b4bd3" stroke="#4b4bd3" stroke-width="0.15" textLength="43.5" lengthAdjust="spacingAndGlyphs">131.885</text>
<text x="363.2" y="12.5" fill="#000" stroke="#000" stroke-width="0.25" textLength="17.8" lengthAdjust="spacingAndGlyphs">Fch</text>
<text x="384.8" y="12.5" fill="#4b4bd3" stroke="#4b4bd3" stroke-width="0.15" textLength="43.3" lengthAdjust="spacingAndGlyphs">132.245</text>
<text x="431.6" y="12.5" fill="#000" stroke="#000" stroke-width="0.25" textLength="7.8" lengthAdjust="spacingAndGlyphs">V</text>
<text x="442.1" y="12.5" fill="#4b4bd3" stroke="#4b4bd3" stroke-width="0.15" textLength="33.3" lengthAdjust="spacingAndGlyphs">0,19%</text>
<text x="479.1" y="12.5" fill="#000" stroke="#000" stroke-width="0.25" textLength="7.6" lengthAdjust="spacingAndGlyphs">A</text>
<text x="490.1" y="12.5" fill="#4b4bd3" stroke="#4b4bd3" stroke-width="0.15" textLength="48.2" lengthAdjust="spacingAndGlyphs">131.981)</text>
<rect x="543.8" y="1.3" width="14.6" height="14.8" rx="3" fill="#fff" stroke="#8a8a8a" stroke-width="1"/><path d="M547.5 8.7 H554.7 M551.1 5.1 V12.3" stroke="#555" stroke-width="1.3" fill="none"/>
</g>
</svg></body></html>
